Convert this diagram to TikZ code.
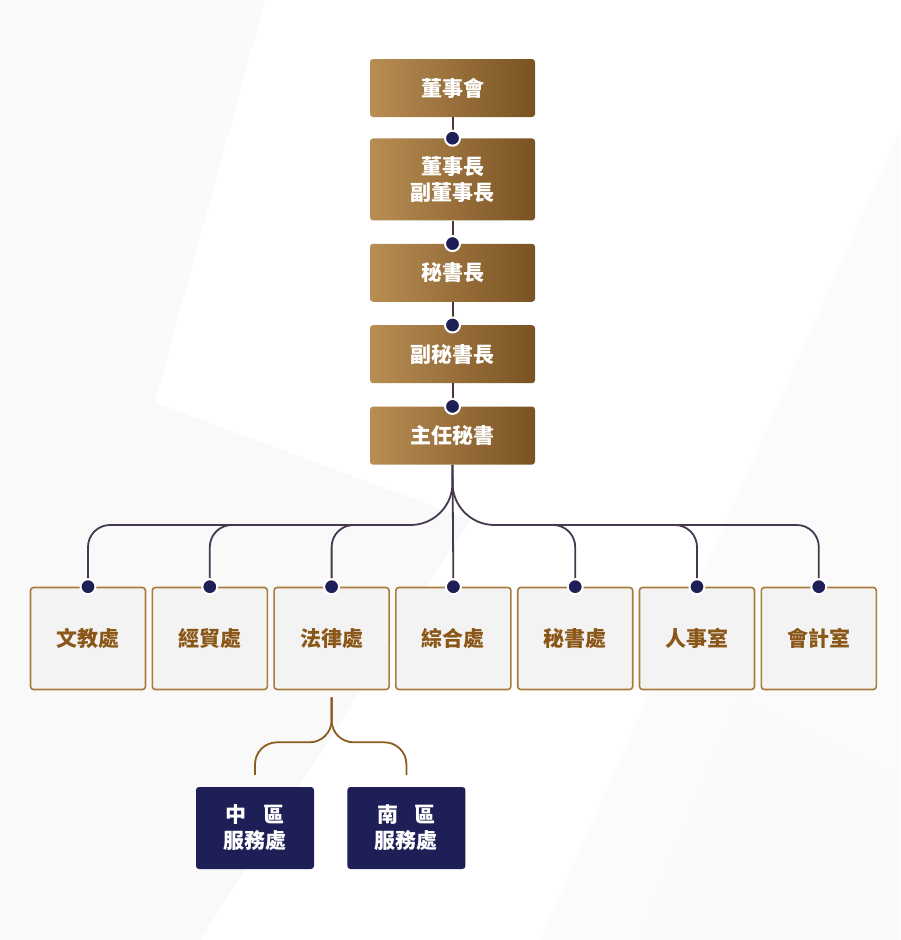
\documentclass[tikz,border=0pt]{standalone}
\usepackage{fontspec}
\setmainfont{Noto Sans CJK TC}
\usetikzlibrary{positioning,backgrounds}
\definecolor{goldL}{RGB}{184,142,84}
\definecolor{goldR}{RGB}{122,82,34}
\definecolor{navy}{RGB}{31,31,88}
\definecolor{brownTxt}{RGB}{139,87,24}
\definecolor{boxEdge}{RGB}{168,124,60}
\definecolor{boxFill}{RGB}{243,243,243}
\definecolor{stemLine}{RGB}{78,54,46}
\definecolor{branchLine}{RGB}{70,56,78}
\definecolor{subLine}{RGB}{139,92,30}

\begin{document}
\begin{tikzpicture}[x=1pt,y=-1pt,
	font=\bfseries\fontsize{21}{26}\selectfont,
	topbox/.style={rectangle, rounded corners=3pt, left color=goldL, right color=goldR, text=white, minimum width=165pt, minimum height=58pt, align=center, inner sep=0pt},
	unitbox/.style={rectangle, rounded corners=3pt, draw=boxEdge, line width=1.6pt, fill=boxFill, text=brownTxt, minimum width=115pt, minimum height=102pt, inner sep=0pt},
	areabox/.style={rectangle, rounded corners=3pt, fill=navy, text=white, minimum width=118pt, minimum height=82pt, align=center, inner sep=0pt},
	dot/.style={circle, fill=navy, draw=white, line width=2pt, inner sep=0pt, minimum size=15pt},
	stem/.style={draw=stemLine, line width=2pt},
	branch/.style={draw=branchLine, line width=1.8pt},
	subbranch/.style={draw=subLine, line width=1.8pt}]
%	\draw [step=50,thin,dotted,draw=black!30] (0,0) grid (900,940);

	\useasboundingbox (0,0) rectangle (900,940);
	\fill [white] (0,0) rectangle (900,940);
	\fill [black!2] (0,0) -- (265,0) -- (150,420) -- (0,345) -- cycle;
	\fill [black!2.5] (0,345) -- (470,520) -- (200,940) -- (0,940) -- cycle;
	\fill [black!1.5] (900,130) -- (900,940) -- (540,940) -- cycle;
	\fill [black!2] (740,700) -- (900,780) -- (900,940) -- (640,940) -- cycle;

	\node [topbox] (board) at (452.5,88) {董事會};
	\node [topbox, minimum height=82pt, below=21pt of board] (chair) {董事長\\副董事長};
	\node [topbox, below=23pt of chair] (secgen) {秘書長};
	\node [topbox, below=23pt of secgen] (dsecgen) {副秘書長};
	\node [topbox, below=23pt of dsecgen] (chief) {主任秘書};

	\draw [stem] (board) -- (chair);
	\draw [stem] (chair) -- (secgen);
	\draw [stem] (secgen) -- (dsecgen);
	\draw [stem] (dsecgen) -- (chief);
	\foreach \n in {chair,secgen,dsecgen,chief}
		\node [dot] at (\n.north) {};

	\foreach \name/\txt [count=\i from 0] in {wenjiao/文教處, jingmao/經貿處, falv/法律處, zonghe/綜合處, mishu/秘書處, renshi/人事室, kuaiji/會計室}
		\node [unitbox] (\name) at (88+121.8*\i, 638.5) {\txt};

	\coordinate (hub) at (452.5,525);
	\draw [branch, rounded corners=42pt] (chief.south) |- ([xshift=-60pt]hub);
	\draw [branch, rounded corners=42pt] (chief.south) |- ([xshift=60pt]hub);
	\draw [branch] (chief.south) -- (zonghe.north);
	\foreach \name in {wenjiao,jingmao,falv}
		\draw [branch, rounded corners=22pt] ([xshift=-50pt]hub) -| (\name.north);
	\foreach \name in {mishu,renshi,kuaiji}
		\draw [branch, rounded corners=22pt] ([xshift=50pt]hub) -| (\name.north);
	\foreach \name in {wenjiao,jingmao,falv,zonghe,mishu,renshi,kuaiji}
		\node [dot] at (\name.north) {};

	\node [areabox] (middle) at (255,828) {中\hspace{0.8em}區\\服務處};
	\node [areabox, right=33pt of middle] (south) {南\hspace{0.8em}區\\服務處};

	\coordinate (split) at ([yshift=-7pt]falv.south);
	\coordinate (subhub) at ([yshift=-52pt]falv.south);
	\coordinate (midEnd) at ([yshift=12pt]middle.north);
	\coordinate (southEnd) at ([yshift=12pt]south.north);
	\draw [subbranch, rounded corners=22pt] (split) -- (subhub) -| (midEnd);
	\draw [subbranch, rounded corners=22pt] (split) -- (subhub) -| (southEnd);
\end{tikzpicture}
\end{document}
